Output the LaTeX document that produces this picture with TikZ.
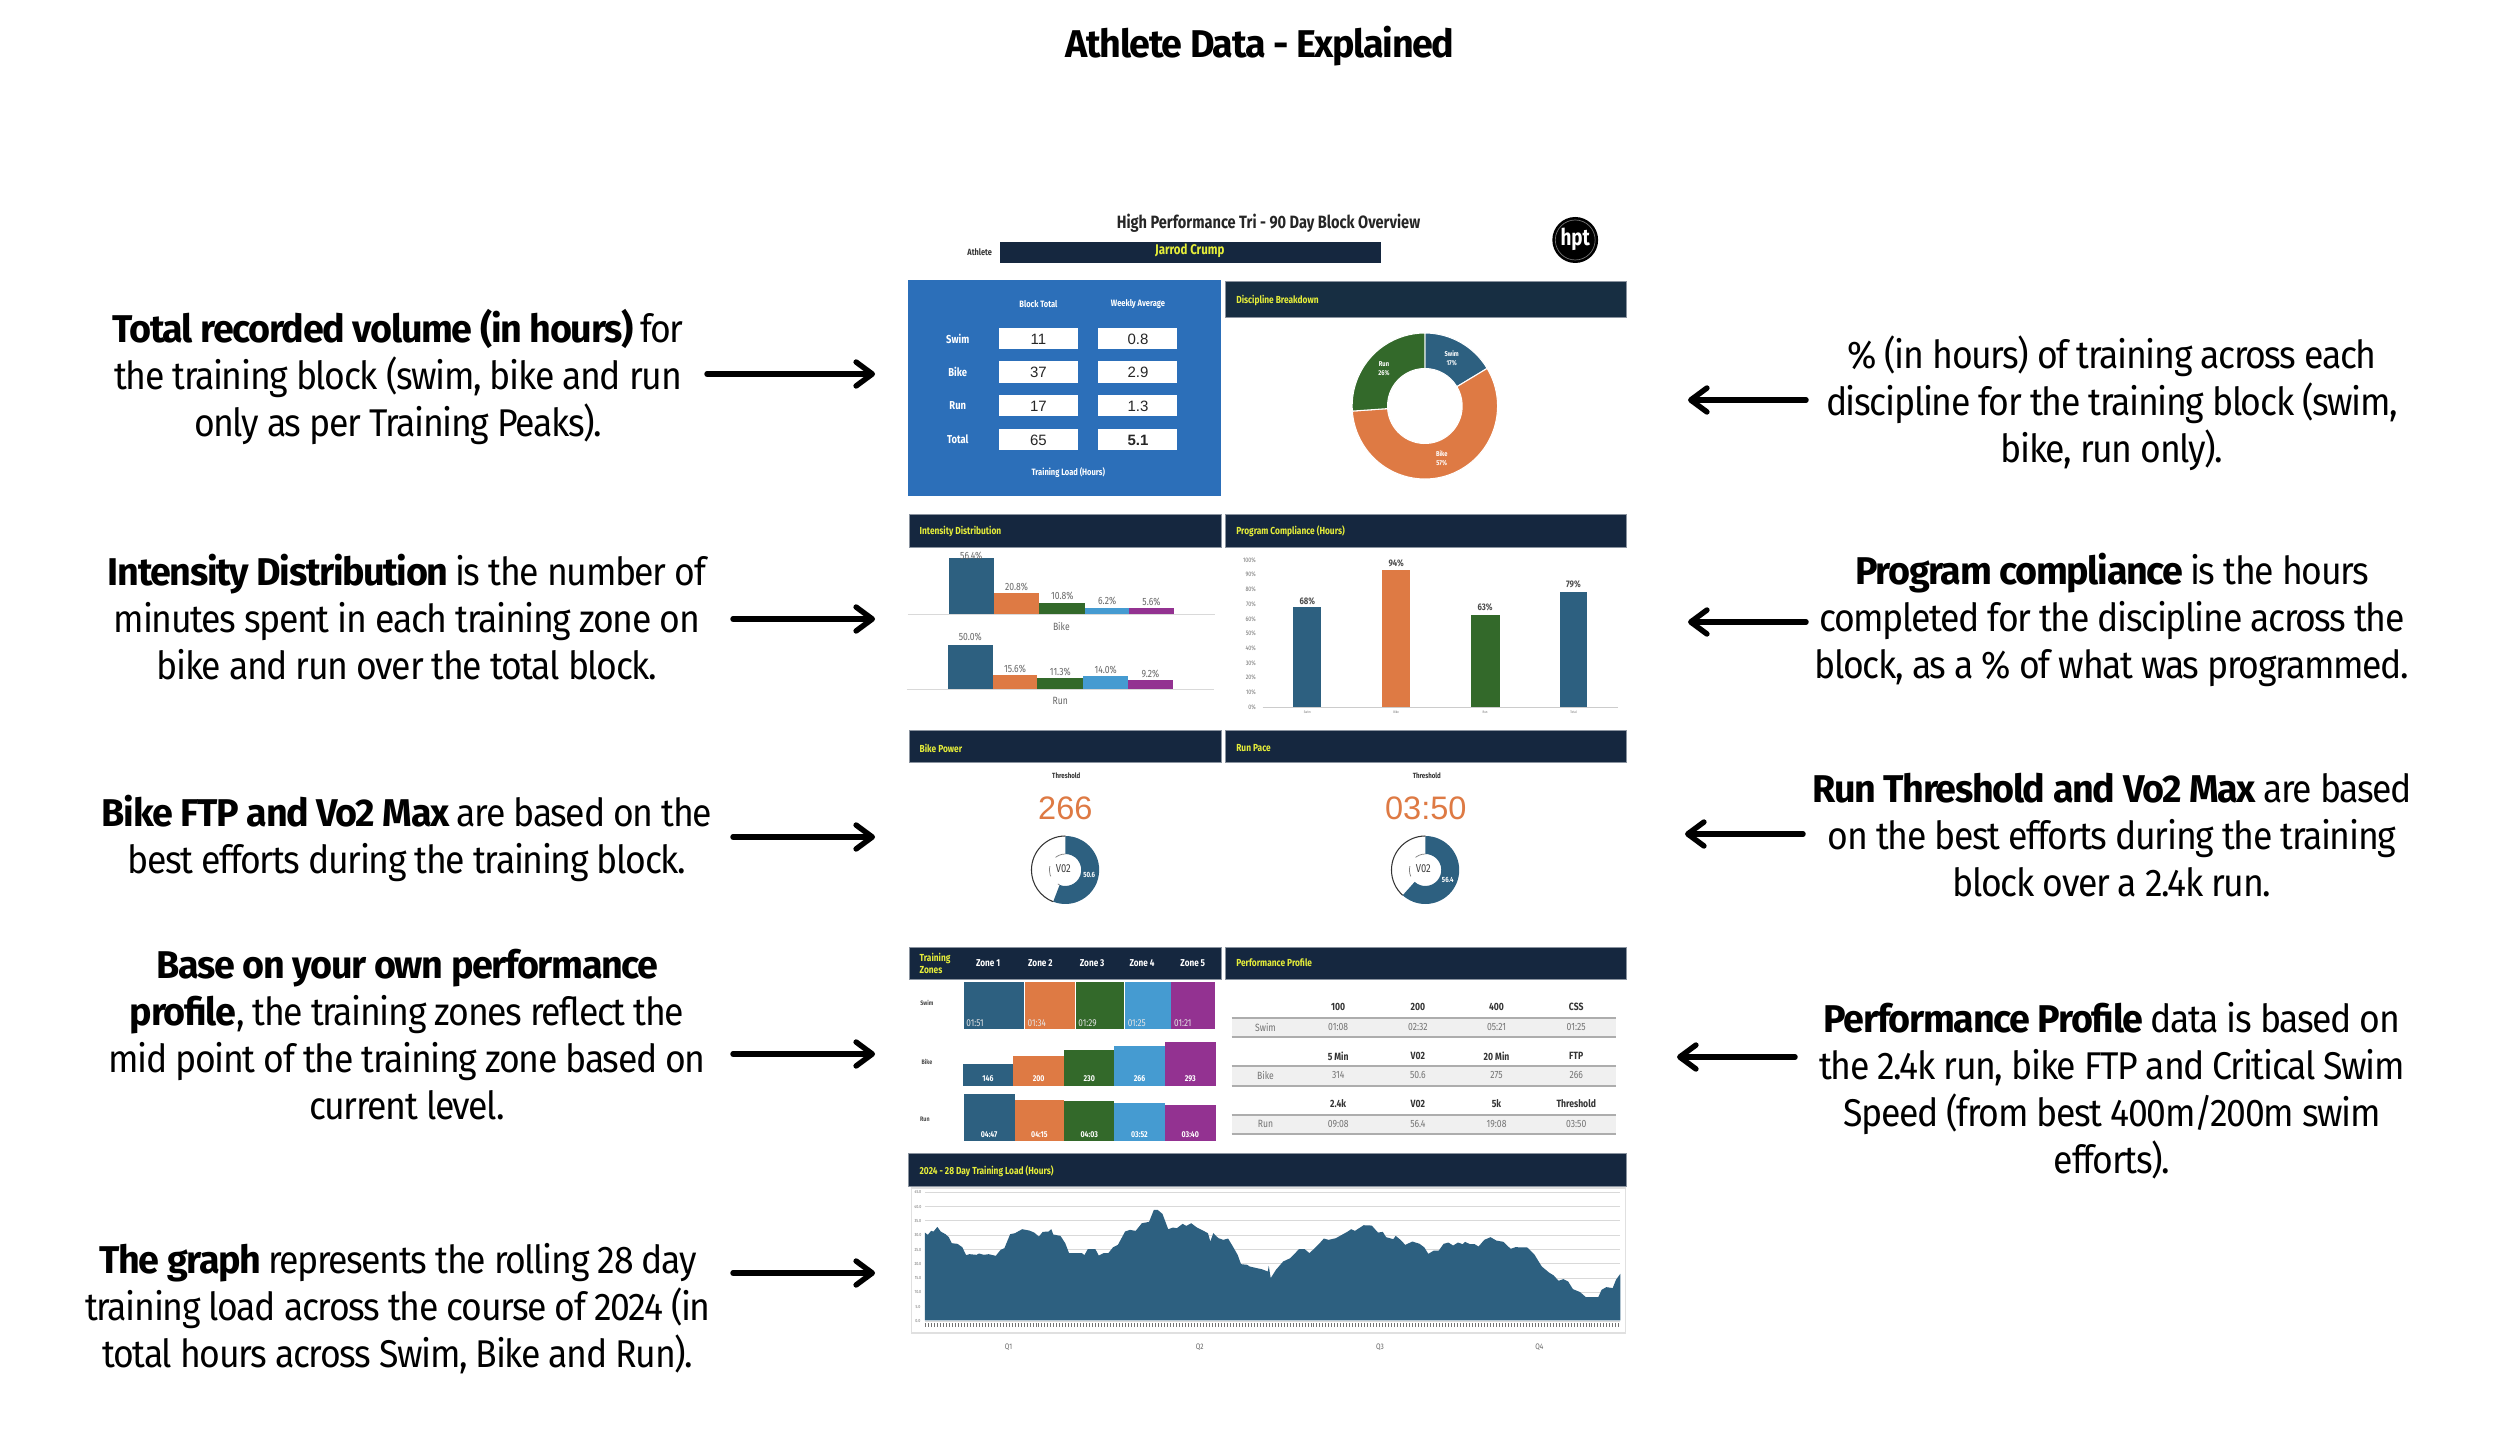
\documentclass[tikz,border=0pt]{standalone}
\usepackage{fontspec}
\usetikzlibrary{arrows.meta}
\setmainfont{Liberation Sans}
\newfontfamily\bodyf[FakeStretch=0.92,LetterSpace=-3.5,BoldFeatures={FakeStretch=0.975}]{Fira Sans}
\newfontfamily\dashf[FakeStretch=0.82]{Fira Sans}
\newfontfamily\numf{Liberation Sans}
\newcommand\pxs[1]{\fontsize{\fpeval{#1*0.2845}}{\fpeval{#1*0.32}}\selectfont}
\definecolor{navy}{HTML}{15273F}
\definecolor{teal}{HTML}{172E42}
\definecolor{panelblue}{HTML}{2C6FB9}
\definecolor{yel}{HTML}{E6EE3A}
\definecolor{cblue}{HTML}{2D6080}
\definecolor{corange}{HTML}{DE7A44}
\definecolor{cgreen}{HTML}{33692A}
\definecolor{clight}{HTML}{459BD1}
\definecolor{cpurple}{HTML}{933291}
\tikzset{
  bodytxt/.style={font=\bodyf\fontsize{11}{13.37}\selectfont,align=center,inner sep=0pt,text=black},
  hdrtxt/.style={font=\dashf\bfseries\pxs{10.2},text=yel,anchor=west,inner sep=0pt},
  small/.style={font=\dashf\pxs{10.5},text=black!60,inner sep=0pt},
  smallb/.style={font=\dashf\bfseries\pxs{10.5},text=black!80,inner sep=0pt},
  whiteb/.style={font=\dashf\bfseries\pxs{9.2},text=white,inner sep=0pt},
  valtxt/.style={font=\numf\pxs{15},text=black!85,inner sep=0pt},
  tiny/.style={font=\dashf\pxs{4.5},text=black!55,inner sep=0pt},
  callout/.style={line width=1.55pt,black,line cap=round,-{Straight Barb[length=4.6pt,width=6.8pt,line width=1.55pt,round]}},
  hdrbox/.style={fill=navy,draw=navy!50!white,line width=0.15pt},
}
\newcommand\ringseg[7]{\begin{scope}[shift={(#1,#2)},y=0.01cm]\fill[#7] (#5:#3) arc[start angle=#5,end angle=#6,radius=#3] -- (#6:#4) arc[start angle=#6,end angle=#5,radius=#4] -- cycle;\end{scope}}
\newcommand\ringarc[6]{\begin{scope}[shift={(#1,#2)},y=0.01cm]\draw[#6] (#4:#3) arc[start angle=#4,end angle=#5,radius=#3];\end{scope}}
\begin{document}
\begin{tikzpicture}[x=0.01cm,y=-0.01cm]
\fill[white] (0,0) rectangle (2500,1437);
\useasboundingbox (0,0) rectangle (2500,1437);

% title
\node[font=\bodyf\bfseries\fontsize{11.0}{13}\selectfont,inner sep=0pt] (maintitle) at (1260,46) {Athlete Data - Explained};

% left texts
\node[bodytxt] (L1) at (398,377) {\textbf{Total recorded volume (in hours)} for\\the training block (swim, bike and run\\only as per Training Peaks).};
\node[bodytxt] (L2) at (407,617) {\textbf{Intensity Distribution} is the number of\\minutes spent in each training zone on\\bike and run over the total block.};
\node[bodytxt] (L3) at (407,838) {\textbf{Bike FTP and Vo2 Max} are based on the\\best efforts during the training block.};
\node[bodytxt] (L4) at (407,1035) {\textbf{Base on your own performance}\\\textbf{profile}, the training zones reflect the\\mid point of the training zone based on\\current level.};
\node[bodytxt] (L5) at (398,1309) {\textbf{The graph} represents the rolling 28 day\\training load across the course of 2024 (in\\total hours across Swim, Bike and Run).};

% right texts
\node[bodytxt] (R1) at (2112,403) {\% (in hours) of training across each\\discipline for the training block (swim,\\bike, run only).};
\node[bodytxt] (R2) at (2112,620) {\textbf{Program compliance} is the hours\\completed for the discipline across the\\block, as a \% of what was programmed.};
\node[bodytxt] (R3) at (2112,835) {\textbf{Run Threshold and Vo2 Max} are based\\on the best efforts during the training\\block over a 2.4k run.};
\node[bodytxt] (R4) at (2112,1091) {\textbf{Performance Profile} data is based on\\the 2.4k run, bike FTP and Critical Swim\\Speed (from best 400m/200m swim\\efforts).};

\begin{scope}[xshift=0.0369cm,xscale=0.9959]
% dashboard top
\node[font=\dashf\bfseries\pxs{17.8},text=black!85,inner sep=0pt] (dashtitle) at (1270,223) {High Performance Tri - 90 Day Block Overview};
\node[font=\dashf\bfseries\pxs{9},text=black!80,inner sep=0pt] (athl) at (980,252) {Athlete};
\fill[navy] (1000,242) rectangle (1383,263);
\node[font=\dashf\bfseries\pxs{14},text=yel,inner sep=0pt] (jarrod) at (1191,251) {Jarrod Crump};
\fill[black] (1578,240) circle (23);
\draw[black!55,line width=0.2pt] (1578,240) circle (20);
\node[font=\dashf\bfseries\pxs{23},text=white,inner sep=0pt] (hpt) at (1578,239) {hpt};

% training load panel
\fill[panelblue] (908,280) rectangle (1222,496);
\node[whiteb] (blockt) at (1039,304) {Block Total};
\node[whiteb] (weekly) at (1139,304) {Weekly Average};
\foreach \lab/\ya/\yb/\va/\vb/\nm in {Swim/328/349/11/0.8/a,Bike/361/383/37/2.9/b,Run/395/416/17/1.3/c,Total/429/450/65/\textbf{5.1}/d}{
  \fill[white] (999,\ya) rectangle (1079,\yb);
  \fill[white] (1099,\ya) rectangle (1178,\yb);
  \node[whiteb,font=\dashf\bfseries\pxs{11.5}] (rowl\nm) at (958,{(\ya+\yb)/2}) {\lab};
  \node[valtxt] (va\nm) at (1039,{(\ya+\yb)/2+0.5}) {\va};
  \node[valtxt] (vb\nm) at (1139,{(\ya+\yb)/2+0.5}) {\vb};
}
\node[whiteb] (tlh) at (1069,473) {Training Load (Hours)};

% headers
\path[hdrbox,fill=teal] (1227,281) rectangle (1629,317);
\node[hdrtxt] (hd1) at (1237,300) {Discipline Breakdown};
\path[hdrbox] (909,514) rectangle (1223,547);
\node[hdrtxt] (hd2) at (919,531) {Intensity Distribution};
\path[hdrbox] (1227,514) rectangle (1629,547);
\node[hdrtxt] (hd3) at (1237,531) {Program Compliance (Hours)};
\path[hdrbox] (909,730) rectangle (1223,762);
\node[hdrtxt] (hd4) at (919,748) {Bike Power};
\path[hdrbox] (1227,730) rectangle (1629,762);
\node[hdrtxt] (hd5) at (1237,748) {Run Pace};
\path[hdrbox] (909,947) rectangle (1223,979);
\node[hdrtxt,align=left,font=\dashf\bfseries\fontsize{2.9}{3.4}\selectfont] (hd6) at (919,963) {Training\\Zones};
\path[hdrbox] (1227,947) rectangle (1629,979);
\node[hdrtxt] (hd7) at (1237,963) {Performance Profile};
\path[hdrbox] (908,1153) rectangle (1629,1186);
\node[hdrtxt] (hd8) at (919,1171) {2024 - 28 Day Training Load (Hours)};
\foreach \z/\x in {1/988.5,2/1041,3/1093,4/1143,5/1194}{
  \node[whiteb,font=\dashf\bfseries\pxs{10}] (zone\z) at (\x,963) {Zone \z};
}

% discipline donut
\ringseg{1427}{406}{73}{37.5}{90}{31}{cblue,draw=white,line width=0.3pt}
\ringseg{1427}{406}{73}{37.5}{31}{-176}{corange,draw=white,line width=0.3pt}
\ringseg{1427}{406}{73}{37.5}{-176}{-270}{cgreen,draw=white,line width=0.3pt}
\node[whiteb,font=\dashf\bfseries\fontsize{2}{2.55}\selectfont,align=center] (dsw) at (1454,358.5) {Swim\\17\%};
\node[whiteb,font=\dashf\bfseries\fontsize{2}{2.55}\selectfont,align=center] (dbk) at (1444,458.5) {Bike\\57\%};
\node[whiteb,font=\dashf\bfseries\fontsize{2}{2.55}\selectfont,align=center] (drn) at (1386,368.5) {Run\\26\%};

% intensity bars
\draw[black!15,line width=0.3pt] (908,614.5) -- (1216,614.5);
\draw[black!15,line width=0.3pt] (907,689.5) -- (1215,689.5);
\foreach \xa/\xb/\t/\c/\lab/\ly/\i in {949/994/558/cblue/56.4/556/1,994/1040/593/corange/20.8/587/2,1040/1086/603/cgreen/10.8/596/3,1086/1130/608/clight/6.2/601/4,1130/1175/608/cpurple/5.6/602/5}{
  \fill[\c] (\xa,\t) rectangle (\xb,614);
  \node[small] (ib\i) at ({(\xa+\xb)/2},\ly) {\lab\%};
}
\foreach \xa/\xb/\t/\c/\lab/\ly/\i in {948/993/645/cblue/50.0/637/1,993/1038/675/corange/15.6/669/2,1038/1084/678/cgreen/11.3/672/3,1084/1129/676/clight/14.0/670/4,1129/1174/680/cpurple/9.2/674/5}{
  \fill[\c] (\xa,\t) rectangle (\xb,689);
  \node[small] (ir\i) at ({(\xa+\xb)/2},\ly) {\lab\%};
}
\node[small] (ibk) at (1062,626) {Bike};
\node[small] (irn) at (1061,701) {Run};

% compliance chart
\foreach \v in {0,10,...,100}{
  \node[tiny,font=\dashf\pxs{6.5},anchor=east] (cy\v) at (1258,{707-\v*1.47}) {\v\%};
}
\draw[black!20,line width=0.3pt] (1264,707.5) -- (1621,707.5);
\foreach \xa/\xb/\t/\c/\lab/\ly/\nm in {1295/1323/607/cblue/68/601/Swim,1384/1412.5/570/corange/94/563/Bike,1473/1502/615/cgreen/63/607/Run,1562.5/1590/592/cblue/79/584/Total}{
  \fill[\c] (\xa,\t) rectangle (\xb,707);
  \node[smallb,font=\dashf\bfseries\pxs{9.5},text=black!70] (cl\nm) at ({(\xa+\xb)/2},\ly) {\lab\%};
  \node[tiny,font=\dashf\pxs{3.5}] (cx\nm) at ({(\xa+\xb)/2},712.5) {\nm};
}

% power / pace
\node[smallb,font=\dashf\bfseries\pxs{7.5}] (th1) at (1067,776) {Threshold};
\node[smallb,font=\dashf\bfseries\pxs{7.5}] (th2) at (1429,776) {Threshold};
\node[font=\numf\pxs{32.5},text=corange,inner sep=0pt] (val266) at (1066,808) {266};
\node[font=\numf\pxs{32.5},text=corange,inner sep=0pt] (val350) at (1428,808) {03:50};
\foreach \cx/\sw/\ew/\lab/\lx/\ly/\i in {1066/-111/249/50.6/1090/875/1,1427.5/-132/228/56.4/1450/880/2}{
  \ringseg{\cx}{870}{34}{16}{90}{\sw}{cblue}
  \ringarc{\cx}{870}{34}{90}{\ew}{black!80,line width=0.3pt}
  \ringarc{\cx}{870}{16}{90}{\ew}{black!50,line width=0.2pt,dashed}
  \node[whiteb,font=\dashf\bfseries\pxs{7.5}] (vo\i) at (\lx,\ly) {\lab};
  \node[font=\dashf\pxs{11.5},text=black!75,inner sep=0pt] (vn\i) at ({\cx-2},869) {V02};
}

% training zones
\foreach \lab/\x/\y/\i in {Swim/927/1003/s,Bike/927/1062/b,Run/925/1119/r}{
  \node[smallb,font=\dashf\bfseries\pxs{6.5},text=black!70] (zl\i) at (\x,\y) {\lab};
}
\foreach \xa/\xb/\c/\lab/\i in {964/1024/cblue/01:51/1,1025.5/1075.5/corange/01:34/2,1076.5/1125/cgreen/01:29/3,1126/1172/clight/01:25/4,1172.6/1216/cpurple/01:21/5}{
  \fill[\c] (\xa,982) rectangle (\xb,1029);
  \node[whiteb,font=\dashf\pxs{10},text=white!90!black,anchor=west] (zs\i) at ({\xa+2},1023) {\lab};
}
\foreach \xa/\xb/\t/\c/\lab/\i in {963/1013.5/1064/cblue/146/1,1013.5/1065/1056/corange/200/2,1065/1115/1050/cgreen/230/3,1115/1166/1046/clight/266/4,1166/1217/1042/cpurple/293/5}{
  \fill[\c] (\xa,\t) rectangle (\xb,1086);
  \node[whiteb,font=\dashf\bfseries\pxs{8.5}] (zb\i) at ({(\xa+\xb)/2},1079) {\lab};
}
\foreach \xa/\xb/\t/\c/\lab/\i in {964/1015/1094/cblue/04:47/1,1015/1065/1100/corange/04:15/2,1065/1115/1101/cgreen/04:03/3,1115/1166/1103/clight/03:52/4,1166/1217/1105/cpurple/03:40/5}{
  \fill[\c] (\xa,\t) rectangle (\xb,1141);
  \node[whiteb,font=\dashf\bfseries\pxs{8.5}] (zr\i) at ({(\xa+\xb)/2},1135) {\lab};
}

% performance profile
\foreach \hy/\ya/\ty/\yb/\rl/\ha/\hb/\hc/\hd/\va/\vb/\vc/\vd/\i in {
  1007/1018/1027/1037/Swim/100/200/400/CSS/01:08/02:32/05:21/01:25/1,
  1056/1066/1075/1086/Bike/5 Min/V02/20 Min/FTP/314/50.6/275/266/2,
  1104/1115/1124/1134/Run/2.4k/V02/5k/Threshold/09:08/56.4/19:08/03:50/3}{
  \fill[black!6] (1233,\ya) rectangle (1619,\yb);
  \draw[black!32,line width=0.4pt] (1233,\ya) -- (1619,\ya);
  \draw[black!32,line width=0.4pt] (1233,\yb) -- (1619,\yb);
  \node[small,text=black!55] (pr\i) at (1267,\ty) {\rl};
  \foreach \tx/\txt/\val/\j in {1340/\ha/\va/a,1420/\hb/\vb/b,1499/\hc/\vc/c,1579/\hd/\vd/d}{
    \node[smallb] (ph\i\j) at (\tx,\hy) {\txt};
    \node[small,text=black!55] (pv\i\j) at (\tx,\ty) {\val};
  }
}

% load chart
\draw[black!12,line width=0.3pt] (911.5,1188) rectangle (1628,1333);
\foreach \v in {0,5,...,45}{
  \pgfmathsetmacro\gy{1321-\v*2.86}
  \draw[black!15,line width=0.25pt] (925,\gy) -- (1623,\gy);
  \node[tiny] (gy\v) at (918,\gy) {\v.0};
}
\begin{scope}[shift={(900,1150)},x=0.0048077cm,y=-0.003333cm]
\fill[cblue] (52,512) -- (52,248) -- (58,255) -- (65,243) -- (70,245) -- (78,231) -- (85,245) -- (95,253) -- (102,262) -- (108,280) -- (120,282) -- (130,292) -- (138,316) -- (145,313) -- (160,315) -- (165,311) -- (175,315) -- (185,313) -- (200,318) -- (210,300) -- (218,295) -- (230,253) -- (240,250) -- (255,238) -- (270,242) -- (280,248) -- (290,260) -- (298,246) -- (310,245) -- (316,238) -- (320,254) -- (335,258) -- (345,280) -- (353,310) -- (380,310) -- (385,316) -- (392,298) -- (408,298) -- (415,317) -- (425,310) -- (435,310) -- (445,292) -- (455,285) -- (470,245) -- (480,240) -- (492,243) -- (505,220) -- (520,216) -- (530,180) -- (538,180) -- (548,192) -- (560,238) -- (570,233) -- (578,235) -- (590,222) -- (598,228) -- (608,220) -- (620,233) -- (630,240) -- (643,250) -- (648,275) -- (654,250) -- (665,265) -- (675,270) -- (685,266) -- (695,290) -- (705,315) -- (712,343) -- (725,345) -- (730,350) -- (745,355) -- (755,358) -- (768,365) -- (770,348) -- (774,385) -- (785,360) -- (800,335) -- (815,325) -- (833,298) -- (845,298) -- (855,310) -- (875,282) -- (885,266) -- (895,270) -- (910,265) -- (935,245) -- (942,238) -- (950,243) -- (968,226) -- (985,227) -- (998,248) -- (1008,246) -- (1015,262) -- (1030,268) -- (1035,258) -- (1045,270) -- (1055,285) -- (1070,275) -- (1085,282) -- (1095,293) -- (1103,312) -- (1115,302) -- (1125,302) -- (1135,282) -- (1145,278) -- (1155,287) -- (1165,278) -- (1175,283) -- (1180,276) -- (1190,283) -- (1200,283) -- (1208,290) -- (1220,270) -- (1233,262) -- (1245,272) -- (1260,276) -- (1275,297) -- (1285,292) -- (1310,293) -- (1325,315) -- (1340,350) -- (1355,368) -- (1365,377) -- (1375,393) -- (1385,388) -- (1395,395) -- (1405,418) -- (1420,427) -- (1432,442) -- (1458,442) -- (1465,420) -- (1475,412) -- (1488,415) -- (1495,390) -- (1504,372) -- (1504,512) -- cycle;
\end{scope}
\draw[black!55,line width=1.1pt,dash pattern=on 0.25pt off 0.6pt] (925,1325) -- (1623,1325);
\foreach \q/\x in {1/1009,2/1201,3/1382,4/1542}{
  \node[small,font=\dashf\pxs{8},text=black!60] (q\q) at (\x,1347) {Q\q};
}
\end{scope}

% connector ends
\coordinate (tL1) at (875,374);
\coordinate (tL2) at (875,619);
\coordinate (tL3) at (875,837);
\coordinate (tL4) at (875,1054);
\coordinate (tL5) at (875,1273);
\coordinate (tR1) at (1688,400);
\coordinate (tR2) at (1688,622);
\coordinate (tR3) at (1685,834);
\coordinate (tR4) at (1677,1057);
\coordinate (sL1) at (707,374);
\coordinate (sL2) at (733,619);
\coordinate (sL3) at (733,837);
\coordinate (sL4) at (733,1054);
\coordinate (sL5) at (733,1273);
\coordinate (sR1) at (1806,400);
\coordinate (sR2) at (1806,622);
\coordinate (sR3) at (1803,834);
\coordinate (sR4) at (1795,1057);
\foreach \i in {L1,L2,L3,L4,L5,R1,R2,R3,R4}{
  \draw[callout] (s\i) -- (t\i);
}
\end{tikzpicture}
\end{document}
